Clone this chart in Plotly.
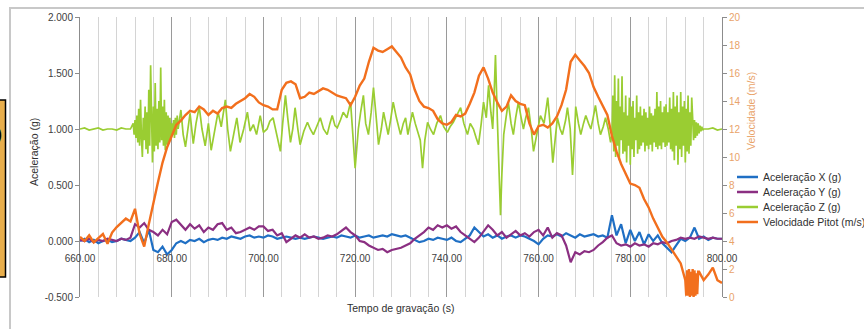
import numpy as np
import plotly.graph_objects as go

# ---------------- data ----------------
t_xy = list(range(660, 801))  # 1 s sampling for X, Y and Pitot

acc_x = [0.0, 0.02, -0.01, 0.01, -0.02, 0.0, 0.01, -0.01, 0.0, 0.02, 0.01, 0.0,
         0.03, 0.08, -0.02, 0.1, -0.08, -0.1, -0.05, -0.12, -0.08, -0.02,
         0.0, -0.02, 0.01, 0.0, 0.02, -0.01, 0.01, 0.02, 0.01, 0.03, 0.02, 0.04, 0.03, 0.02, 0.04, 0.05, 0.03, 0.04,
         0.03, 0.05, 0.04, 0.02, 0.03, 0.04, 0.03, 0.02, 0.03, 0.02, 0.03, 0.04, 0.03, 0.02, 0.03, 0.04, 0.03, 0.05, 0.04, 0.03,
         0.05, 0.03, 0.04, 0.05, 0.03, 0.04, 0.05, 0.04, 0.06, 0.05, 0.04, 0.05, 0.03, 0.01, -0.01, 0.0, 0.02, 0.01, 0.03, 0.02,
         0.01, 0.03, 0.0, -0.01, 0.02, 0.05, 0.12, 0.08, 0.04, 0.06, 0.03, 0.05, 0.02, 0.04, 0.05, 0.03, 0.05, 0.04, 0.02, 0.0,
         -0.03, 0.02, 0.05, 0.04, 0.06, 0.04, 0.07, 0.05, 0.03, 0.06, 0.04, 0.05, 0.06, 0.04, 0.05, 0.03,
         0.23, 0.05, 0.15, -0.02, 0.1, 0.0, 0.08, -0.03, 0.06, 0.0, 0.05, -0.02, -0.06, -0.1, -0.04, 0.02, 0.0, 0.03, 0.12, 0.02,
         0.04, 0.01, 0.03, 0.02, 0.02]

acc_y = [0.01, 0.0, 0.02, -0.01, 0.01, 0.0, 0.02, 0.01, 0.0, 0.02, 0.01, 0.03,
         0.15, 0.12, 0.16, 0.1, 0.08, 0.05, 0.1, 0.06, 0.17, 0.19,
         0.14, 0.1, 0.15, 0.11, 0.14, 0.08, 0.12, 0.1, 0.15, 0.16, 0.1, 0.12, 0.07, 0.08, 0.1, 0.12, 0.1, 0.13,
         0.13, 0.09, 0.1, 0.05, 0.07, -0.01, 0.02, 0.05, 0.03, 0.06, 0.03, 0.04, 0.02, 0.03, 0.05, 0.04, 0.06, 0.09, 0.12, 0.08,
         0.05, 0.0, -0.01, -0.04, -0.06, -0.08, -0.07, -0.1, -0.08, -0.07, -0.06, -0.04, -0.02, 0.02, 0.05, 0.08, 0.12, 0.1, 0.14, 0.12,
         0.14, 0.11, 0.13, 0.08, 0.05, 0.02, -0.01, 0.03, 0.08, 0.14, 0.1, 0.05, 0.08, 0.03, 0.06, 0.09, 0.05, 0.07, 0.04, 0.08,
         0.1, 0.05, 0.12, 0.03, 0.07, 0.05, -0.04, -0.19, -0.1, -0.12, -0.09, -0.1, -0.08, -0.04, -0.01, 0.03,
         0.05, -0.02, -0.04, -0.03, -0.05, -0.02, -0.04, -0.03, -0.05, -0.02, -0.03, -0.01, -0.02, 0.0, 0.01, 0.03, 0.02, 0.03, 0.02, 0.04,
         0.03, 0.02, 0.03, 0.02, 0.02]

speed = [4.3, 4.0, 4.4, 3.9, 4.2, 4.5, 3.8, 4.6, 5.0, 5.3, 5.6, 5.4, 6.3, 4.5, 3.6, 5.2, 6.8, 8.2, 9.6, 10.7,
         11.5, 12.3, 12.6, 13.0, 13.3, 13.2, 13.6, 13.4, 13.0, 13.3, 13.1, 13.5, 13.6, 13.5, 13.8, 14.0, 14.2, 14.5, 14.3, 13.9,
         13.7, 13.6, 13.4, 13.4, 14.8, 15.3, 15.4, 15.2, 14.2, 14.3, 14.6, 14.5, 14.7, 14.9, 14.8, 14.6, 14.4, 14.3, 14.2, 13.7,
         14.3, 15.1, 15.6, 16.8, 17.8, 17.6, 17.5, 17.7, 17.9, 17.5, 17.1, 16.4, 15.9, 14.8, 14.0, 13.6, 13.5, 13.3, 12.7, 12.4,
         12.3, 12.5, 13.0, 12.9, 13.1, 13.8, 14.6, 15.8, 16.4, 15.6, 14.6, 13.9, 13.3, 13.6, 14.4, 14.0, 13.8, 13.7, 12.4, 11.6,
         12.2, 12.3, 12.1, 12.4, 12.9, 13.7, 14.8, 16.8, 17.3, 16.9, 16.5, 16.0, 15.0, 14.3, 13.6, 13.0, 11.5, 10.4, 9.5, 8.8,
         8.1, 8.0, 7.8, 7.0, 6.4, 5.6, 4.9, 4.3, 3.9, 3.4, 2.9, 2.4, 1.2, 0.2, 0.5, 1.8, 1.2, 1.6, 2.1, 1.2, 1.0]

# Pitot drop-out around 792-795 s (fast flicker between ~0 and ~2 m/s)
t_drop = [792.2, 792.4, 792.6, 792.8, 793.0, 793.2, 793.4, 793.6, 793.8, 794.0, 794.2, 794.4, 794.6, 794.8]
speed_drop = [0.1, 1.9, 0.1, 2.0, 0.0, 1.8, 0.1, 2.0, 0.0, 1.9, 0.1, 1.7, 0.2, 1.8]

# Z acceleration: calm part, first burst, flight part, landing burst, calm end
z_calm_t = [660, 661, 662, 663, 664, 665, 666, 667, 668, 669, 670, 671]
z_calm = [1.0, 1.01, 0.99, 1.0, 1.01, 0.99, 1.0, 1.0, 0.99, 1.01, 1.0, 1.0]

z_burst1_start, z_burst_step = 671.6, 0.2
z_burst1 = [1.05, 0.95, 1.08, 0.92, 1.12, 0.88, 1.18, 0.85, 1.26, 0.92,
            0.75, 1.1, 0.9, 1.2, 0.82, 1.15, 0.78, 1.35, 0.85, 1.57,
            0.9, 0.7, 1.2, 0.8, 1.41, 0.85, 1.18, 0.82, 1.25, 0.88,
            1.55, 0.9, 1.2, 0.85, 1.26, 0.81, 1.15, 0.86, 1.12, 0.88,
            1.1, 0.9, 1.05, 0.95, 1.08, 0.92, 1.1, 0.95, 1.12, 1.0]

z_flight_t = [682.0, 682.5, 683.0, 683.5, 684.0, 684.7, 685.3, 686.0, 686.6, 687.3, 688.0, 688.6, 689.3, 690.1, 690.8,
              691.7, 692.2, 692.8, 693.5, 694.2, 694.9, 695.7, 696.5, 697.1, 697.8, 698.5, 699.3, 700.0, 700.8, 701.4,
              702.1, 702.9, 703.7, 704.2, 704.8, 705.3, 705.9, 706.4, 706.9, 707.5, 708.0, 708.8, 709.6, 710.2, 710.9,
              711.6, 712.4, 713.1, 713.9, 714.5, 715.0, 715.6, 716.1, 716.8, 717.4, 718.2, 719.0, 719.5, 720.0, 720.4,
              720.7, 721.2, 721.8, 722.3, 722.9, 723.5, 724.0, 724.6, 725.1, 725.7, 726.2, 726.7, 727.2, 727.8, 728.3,
              729.0, 729.9, 730.5, 731.0, 731.5, 732.0, 732.5, 733.1, 733.6, 734.2, 734.7, 735.2, 735.8, 736.4, 737.1,
              737.8, 738.6, 739.3, 740.1, 740.7, 741.4, 742.2, 743.0, 743.7, 744.5, 745.1, 745.8, 746.4, 746.9, 747.5,
              748.0, 748.6, 749.1, 749.6, 750.0, 750.3, 750.6, 751.0, 751.3, 751.7, 752.0, 752.4, 752.9, 753.4, 754.0,
              754.5, 755.0, 755.6, 756.2, 756.7, 757.2, 757.8, 758.4, 758.9, 759.6, 760.4, 761.2, 762.0, 762.6, 763.1,
              763.6, 764.1, 764.7, 765.2, 765.9, 766.3, 766.9, 767.4, 767.8, 768.1, 768.7, 769.2, 769.8, 770.3, 770.9,
              771.4, 771.9, 772.4, 773.0, 773.5, 774.1, 774.6, 775.2, 775.7, 776.0]
z_flight = [1.17, 0.95, 0.84, 1.0, 1.14, 0.87, 1.05, 1.2, 1.0, 0.85, 1.05, 0.81, 0.98, 1.15, 1.02,
            1.26, 1.0, 0.8, 0.95, 1.1, 0.88, 1.0, 1.15, 0.98, 1.04, 0.95, 1.12, 0.97, 1.0, 1.07,
            1.1, 0.95, 0.8, 1.05, 1.3, 1.1, 0.88, 1.0, 1.19, 1.0, 0.86, 0.98, 1.06, 1.0, 0.95,
            1.02, 1.1, 1.0, 0.95, 1.05, 1.12, 1.03, 1.01, 1.08, 1.15, 1.1, 1.24, 0.95, 0.65, 0.85,
            1.0, 1.15, 1.3, 1.05, 0.95, 1.15, 1.37, 1.1, 0.86, 1.0, 1.15, 1.05, 0.95, 1.1, 1.24,
            1.1, 0.95, 1.05, 1.1, 0.95, 1.05, 1.15, 1.05, 0.97, 0.9, 0.65, 0.9, 1.06, 1.0, 0.95,
            1.05, 1.12, 1.02, 0.97, 1.02, 1.06, 1.12, 1.19, 1.05, 0.95, 1.05, 1.0, 0.92, 0.86, 1.05,
            1.24, 1.1, 1.39, 1.15, 1.0, 1.3, 1.66, 1.1, 0.7, 0.23, 0.6, 0.95, 1.1, 1.24, 1.05,
            0.95, 1.1, 1.24, 1.1, 1.0, 1.1, 1.19, 1.0, 0.8, 0.95, 1.12, 1.05, 1.28, 1.0, 0.7,
            0.9, 1.1, 1.0, 0.95, 1.08, 1.19, 1.0, 0.59, 0.9, 1.2, 1.05, 0.95, 1.05, 1.12, 1.05,
            1.0, 1.1, 1.21, 1.05, 0.95, 1.02, 1.1, 1.0, 0.88, 0.95]

z_burst2_start = 776.2
z_burst2 = [1.3, 0.8, 1.48, 0.75, 1.25, 0.85, 1.45, 0.72, 1.2, 0.9, 1.47, 0.78,
            1.15, 0.8, 1.3, 0.7, 1.12, 0.85, 1.28, 0.68, 1.2, 0.82, 1.25, 0.75, 1.1, 0.9, 1.3, 0.78,
            1.15, 0.82, 1.2, 0.85, 1.12, 0.88, 1.18, 0.8, 1.15, 0.85, 1.1, 0.82, 1.2, 0.86, 1.14, 0.8,
            1.12, 0.88, 1.18, 0.84, 1.33, 0.82,
            1.2, 0.85, 1.25, 0.82, 1.15, 0.88, 1.2, 0.84, 1.22, 0.85, 1.15, 0.88, 1.28, 0.82, 1.18,
            0.8, 1.33, 0.72, 1.2, 0.85, 1.3, 0.68, 1.15, 0.82, 1.33, 0.75, 1.2, 0.85, 1.25, 0.7, 1.18,
            0.8, 1.3, 0.78, 1.15, 0.85, 1.28,
            1.1, 0.9, 1.08, 0.92, 1.06, 0.94, 1.05, 0.96, 1.03, 0.98, 1.02, 0.99, 1.0]

z_end_t = [797, 798, 799, 800]
z_end = [1.0, 1.01, 0.99, 1.0]

x_ticks = [660, 680, 700, 720, 740, 760, 780, 800]
x_ticklabels = ["660.00", "680.00", "700.00", "720.00", "740.00", "760.00", "780.00", "800.00"]
left_ticks = [-0.5, 0.0, 0.5, 1.0, 1.5, 2.0]
left_ticklabels = ["-0.500", "0.000", "0.500", "1.000", "1.500", "2.000"]
right_ticks = [0, 2, 4, 6, 8, 10, 12, 14, 16, 18, 20]

names = ["Aceleração X (g)", "Aceleração Y (g)", "Aceleração Z (g)", "Velocidade Pitot (m/s)"]
colors = ["#1f6fc4", "#8b2f82", "#9acd32", "#f26f1d"]

# ---------------- assemble series ----------------
z_b1_t = [round(z_burst1_start + z_burst_step * i, 2) for i in range(len(z_burst1))]
z_b2_t = [round(z_burst2_start + z_burst_step * i, 2) for i in range(len(z_burst2))]
z_t = z_calm_t + z_b1_t + z_flight_t + z_b2_t + z_end_t
z_v = z_calm + z_burst1 + z_flight + z_burst2 + z_end

v_pairs = sorted(list(zip(t_xy, speed)) + list(zip(t_drop, speed_drop)))
v_t = [p[0] for p in v_pairs]
v_v = [p[1] for p in v_pairs]

font = "Liberation Sans, Arial, sans-serif"
fig = go.Figure()
fig.add_trace(go.Scatter(x=t_xy, y=acc_x, name=names[0], mode="lines",
                         line=dict(color=colors[0], width=2.2)))
fig.add_trace(go.Scatter(x=t_xy, y=acc_y, name=names[1], mode="lines",
                         line=dict(color=colors[1], width=2.2)))
fig.add_trace(go.Scatter(x=z_t, y=z_v, name=names[2], mode="lines",
                         line=dict(color=colors[2], width=1.7)))
fig.add_trace(go.Scatter(x=v_t, y=v_v, name=names[3], mode="lines", yaxis="y2",
                         line=dict(color=colors[3], width=2.4)))

W, H = 864, 329
L, R, T, B = 80, 142, 17, 32
pw, ph = W - L - R, H - T - B


def px(x):
    return (x - L) / pw


def py(y):
    return (H - B - y) / ph


fig.update_layout(
    width=W, height=H,
    margin=dict(l=L, r=R, t=T, b=B, pad=0),
    paper_bgcolor="white", plot_bgcolor="white",
    font=dict(family=font, size=10, color="#404040"),
    showlegend=False,
    xaxis=dict(range=[660, 800], tickmode="array", tickvals=x_ticks, ticktext=x_ticklabels,
               showgrid=True, gridcolor="#9a9a9a", gridwidth=1,
               minor=dict(dtick=4, tick0=660, showgrid=True, gridcolor="#d4d4d4", gridwidth=1),
               zeroline=False, showline=False, ticks="",
               anchor="free", position=py(241), ticklabelstandoff=10,
               tickfont=dict(size=10, color="#404040")),
    yaxis=dict(range=[-0.5, 2.0], tickmode="array", tickvals=left_ticks, ticktext=left_ticklabels,
               showgrid=False, zeroline=False, showline=True, linecolor="#8c8c8c", linewidth=1,
               ticks="outside", ticklen=4, tickcolor="#8c8c8c",
               tickfont=dict(size=10, color="#404040")),
    yaxis2=dict(range=[0, 20], tickmode="array", tickvals=right_ticks, overlaying="y", side="right",
                showgrid=False, zeroline=False, showline=True, linecolor="#8c8c8c", linewidth=1,
                ticks="outside", ticklen=4, tickcolor="#8c8c8c",
                tickfont=dict(size=10, color="#e9a36a")),
)

# legend (compact, drawn as line samples + text)
leg_rows = [177, 192, 207, 222]
for name, col, yy in zip(names, colors, leg_rows):
    fig.add_shape(type="line", xref="paper", yref="paper",
                  x0=px(737), x1=px(758), y0=py(yy), y1=py(yy),
                  line=dict(color=col, width=2.5))
    fig.add_annotation(text=name, xref="paper", yref="paper", xanchor="left", yanchor="middle",
                       x=px(761), y=py(yy), showarrow=False,
                       font=dict(family=font, size=10.5, color="#303030"))

# axis titles
fig.add_annotation(text="Tempo de gravação (s)", xref="paper", yref="paper",
                   xanchor="center", yanchor="middle",
                   x=px(400), y=py(308), showarrow=False,
                   font=dict(family=font, size=10.5, color="#303030"))
fig.add_annotation(text="Aceleração (g)", xref="paper", yref="paper", textangle=-90,
                   xanchor="center", yanchor="middle",
                   x=px(34), y=py(152), showarrow=False,
                   font=dict(family=font, size=10.5, color="#303030"))
fig.add_annotation(text="Velocidade (m/s)", xref="paper", yref="paper", textangle=-90,
                   xanchor="center", yanchor="middle",
                   x=px(751), y=py(111), showarrow=False,
                   font=dict(family=font, size=10.5, color="#e9a36a"))

# outer chart frame and the slide fragment at the left
fig.add_shape(type="rect", xref="paper", yref="paper",
              x0=px(10), x1=px(880), y0=py(340), y1=py(8),
              line=dict(color="#c8c8c8", width=2), fillcolor="rgba(0,0,0,0)", layer="below")
fig.add_shape(type="rect", xref="paper", yref="paper",
              x0=px(-10), x1=px(5.5), y0=py(277), y1=py(100),
              line=dict(color="black", width=1.5), fillcolor="#e8ae4c", layer="above")
fig.add_annotation(text="<b>D</b>", xref="paper", yref="paper", xanchor="right",
                   x=px(5), y=py(135), showarrow=False,
                   font=dict(family=font, size=34, color="black"))

fig.write_html("out.html")
